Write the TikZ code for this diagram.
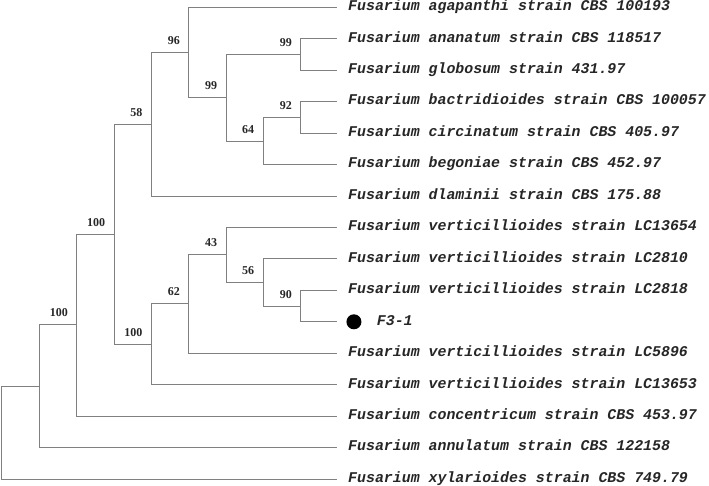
\documentclass[tikz,border=0pt]{standalone}
\usepackage{fontspec}
\newfontfamily\leaffont{Liberation Mono}
\newfontfamily\bootfont{Liberation Serif}
\begin{document}
\begin{tikzpicture}[x=1bp,y=-1bp,
  branch/.style={draw=black!50, line width=0.9bp},
  leaflabel/.style={anchor=base west, inner sep=0pt, text=black!85,
    font=\leaffont\bfseries\itshape\fontsize{14.9bp}{16bp}\selectfont},
  boot/.style={anchor=base east, inner sep=0pt, text=black!85,
    font=\bootfont\bfseries\fontsize{12bp}{13bp}\selectfont}]
\useasboundingbox (0,0) rectangle (709,486);
% leaf tips
\foreach \i/\yy in {0/7.3,1/38.75,2/70.2,3/101.65,4/133.1,5/164.55,6/196.0,7/227.45,8/258.9,9/290.35,10/321.8,11/353.25,12/384.7,13/416.15,14/447.6,15/479.05}
  \coordinate (t\i) at (337,\yy);
% internal nodes
\coordinate (H) at (300.7,54.5);
\coordinate (J) at (300.7,117.4);
\coordinate (I) at (263,141.0);
\coordinate (G) at (226,97.7);
\coordinate (F) at (188.7,52.5);
\coordinate (D) at (151.3,124.2);
\coordinate (N) at (300.7,306.1);
\coordinate (M) at (263,282.3);
\coordinate (L) at (226,254.6);
\coordinate (K) at (188.7,303.6);
\coordinate (E) at (151.3,344.0);
\coordinate (C) at (114,234.1);
\coordinate (B) at (76.7,324.6);
\coordinate (A) at (39,386.1);
\coordinate (R) at (1.7,432.6);
% branches
\draw[branch] (H) |- (t1) (H) |- (t2);
\draw[branch] (J) |- (t3) (J) |- (t4);
\draw[branch] (I) |- (J) (I) |- (t5);
\draw[branch] (G) |- (H) (G) |- (I);
\draw[branch] (F) |- (t0) (F) |- (G);
\draw[branch] (D) |- (F) (D) |- (t6);
\draw[branch] (N) |- (t9) (N) |- (t10);
\draw[branch] (M) |- (t8) (M) |- (N);
\draw[branch] (L) |- (t7) (L) |- (M);
\draw[branch] (K) |- (L) (K) |- (t11);
\draw[branch] (E) |- (K) (E) |- (t12);
\draw[branch] (C) |- (D) (C) |- (E);
\draw[branch] (B) |- (C) (B) |- (t13);
\draw[branch] (A) |- (B) (A) |- (t14);
\draw[branch] (R) |- (A) (R) |- (t15);
% bootstrap values
\foreach \n/\v in {H/99,J/92,I/64,G/99,F/96,D/58,N/90,M/56,L/43,K/62,E/100,C/100,B/100}
  \node[boot] (b\n) at ([shift={(-8.7,-7.8)}]\n) {\v};
% leaf labels
\foreach \i/\txt in {0/Fusarium agapanthi strain CBS 100193,1/Fusarium ananatum strain CBS 118517,2/Fusarium globosum strain 431.97,3/Fusarium bactridioides strain CBS 100057,4/Fusarium circinatum strain CBS 405.97,5/Fusarium begoniae strain CBS 452.97,6/Fusarium dlaminii strain CBS 175.88,7/Fusarium verticillioides strain LC13654,8/Fusarium verticillioides strain LC2810,9/Fusarium verticillioides strain LC2818,11/Fusarium verticillioides strain LC5896,12/Fusarium verticillioides strain LC13653,13/Fusarium concentricum strain CBS 453.97,14/Fusarium annulatum strain CBS 122158,15/Fusarium xylarioides strain CBS 749.79}
  \node[leaflabel] (n\i) at ([shift={(11,3.3)}]t\i) {\txt};
\fill[black] ([xshift=17]t10) circle (7.5) coordinate (dot);
\node[leaflabel] (n10) at ([shift={(39.7,3.3)}]t10) {F3-1};
\end{tikzpicture}
\end{document}
